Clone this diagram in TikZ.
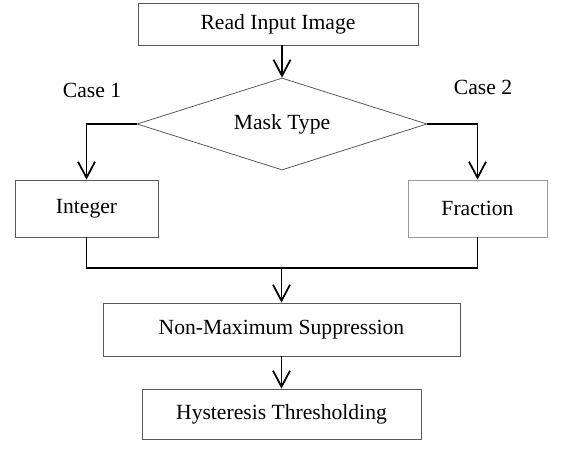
\documentclass[tikz,border=0pt]{standalone}
\usepackage{fontspec}
\setmainfont{Liberation Serif}
\usetikzlibrary{shapes.geometric,arrows.meta}
\begin{document}
\begin{tikzpicture}[
  stepbox/.style={draw=black!65, line width=0.45pt, rectangle, inner sep=0pt,
    font=\fontsize{12.3}{14}\selectfont},
  masknode/.style={draw=black!65, line width=0.45pt, diamond, aspect=3.15, inner sep=0pt,
    font=\fontsize{12.3}{14}\selectfont},
  caselabel/.style={inner sep=0pt, font=\fontsize{12.3}{14}\selectfont},
  flow/.style={line width=1pt, -{Straight Barb[length=3.2mm, width=3.4mm]}},
  link/.style={line width=1pt}]
% \clip (0,0) rectangle (11.240000,9.020000);
\useasboundingbox (0.000000,0.000000) rectangle (11.240000,9.020000);%

% Drawing blocks
\node [stepbox, minimum width=5.600000cm, minimum height=0.840000cm] (read) at (5.560000,8.540000) {Read Input Image};%
\node [masknode, minimum width=5.800000cm, minimum height=1.840000cm] (mask) at (5.640000,6.540000) {Mask Type};%
\node [stepbox, minimum width=2.860000cm, minimum height=1.140000cm] (int) at (1.730000,4.850000) {Integer};%
\node [stepbox, minimum width=2.780000cm, minimum height=1.140000cm, draw=black!40] (frac) at (9.550000,4.850000) {Fraction};%
\node [stepbox, minimum width=7.140000cm, minimum height=1.060000cm] (nms) at (5.630000,2.430000) {Non-Maximum Suppression};%
\node [stepbox, minimum width=5.580000cm, minimum height=1.000000cm] (hyst) at (5.630000,0.740000) {Hysteresis Thresholding};%

% Drawing case labels
\node [caselabel] (case1) at (1.840000,7.220000) {Case 1};%
\node [caselabel] (case2) at (9.660000,7.280000) {Case 2};%

% Drawing connectors
\coordinate (join) at (5.630000,3.660000);%
\draw [flow] (mask.north |- read.south) -- (mask.north);%
\draw [flow] (mask.west) -| (int.north);%
\draw [flow] (mask.east) -| (frac.north);%
\draw [link] (int.south) |- (join);%
\draw [link] (frac.south) |- (join);%
\draw [flow] (join) -- (nms.north);%
\draw [flow] (nms.south) -- (hyst.north);%
\end{tikzpicture}
\end{document}
